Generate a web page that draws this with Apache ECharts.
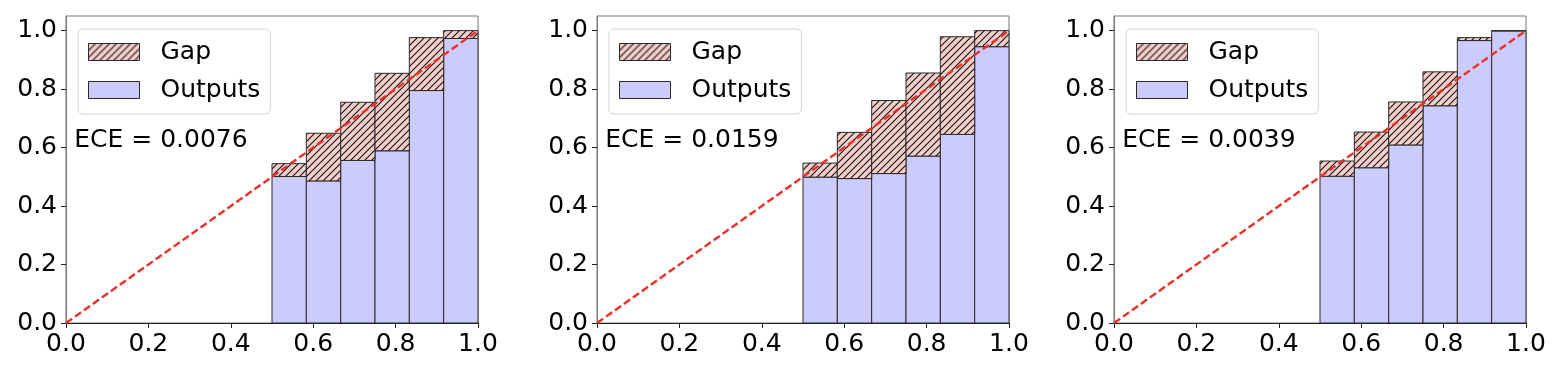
<!DOCTYPE html>
<html>
<head>
<meta charset="utf-8">
<title>Reliability diagrams</title>
<script src="https://cdn.jsdelivr.net/npm/echarts@6/dist/echarts.min.js"></script>
<style>
  html, body { margin: 0; padding: 0; background: #fff; }
  #chart { width: 1562px; height: 372px; }
</style>
</head>
<body>
<div id="chart"></div>
<script>
// bin edges (6 bins from 0.5 to 1.0)
const binEdges = [0.5, 0.5833, 0.6667, 0.75, 0.8333, 0.9167, 1.0];

// mean confidence per bin (top of the gap) and accuracy per bin (outputs)
const conf1 = [0.545, 0.649, 0.755, 0.854, 0.976, 1.0];
const acc1  = [0.501, 0.486, 0.556, 0.589, 0.795, 0.973];
const conf2 = [0.547, 0.652, 0.761, 0.855, 0.979, 1.0];
const acc2  = [0.499, 0.494, 0.511, 0.571, 0.645, 0.945];
const conf3 = [0.554, 0.653, 0.756, 0.859, 0.976, 1.0];
const acc3  = [0.502, 0.531, 0.609, 0.743, 0.966, 0.999];

const eceTexts = ['ECE = 0.0076', 'ECE = 0.0159', 'ECE = 0.0039'];
const tickValues = [0, 0.2, 0.4, 0.6, 0.8, 1.0];
const diagonal = [[0, 0], [1, 1]];
const ecePos = [0.02, 0.6];

const panels = [
    { conf: conf1, acc: acc1 },
    { conf: conf2, acc: acc2 },
    { conf: conf3, acc: acc3 }
];
const gridLefts = [66, 597, 1114];

const FONT = 'DejaVu Sans';
const FS = 25;
const OUT_COLOR = 'rgb(204,204,252)';
const GAP_BG = '#f6cfcb';
const EDGE = '#2a2a2a';

// hatch pattern "///" for the gap bars
function makeHatch() {
    const s = 7;
    const c = document.createElement('canvas');
    c.width = s; c.height = s;
    const ctx = c.getContext('2d');
    ctx.fillStyle = GAP_BG;
    ctx.fillRect(0, 0, s, s);
    ctx.strokeStyle = '#111';
    ctx.lineWidth = 1.1;
    ctx.beginPath();
    ctx.moveTo(-1, s + 1); ctx.lineTo(s + 1, -1);
    ctx.moveTo(-1, 1); ctx.lineTo(1, -1);
    ctx.moveTo(s - 1, s + 1); ctx.lineTo(s + 1, s - 1);
    ctx.stroke();
    return c;
}
const hatch = { image: makeHatch(), repeat: 'repeat' };

function renderBin(params, api) {
    const p0 = api.coord([api.value(0), api.value(3)]);
    const p1 = api.coord([api.value(1), api.value(2)]);
    return {
        type: 'rect',
        shape: { x: p0[0], y: p0[1], width: p1[0] - p0[0], height: p1[1] - p0[1] },
        style: api.style()
    };
}

const grids = [], xAxes = [], yAxes = [], series = [], legends = [];

panels.forEach(function (p, i) {
    grids.push({
        left: gridLefts[i], top: 16, width: 412, height: 307,
        show: true, borderColor: '#777', borderWidth: 1, backgroundColor: 'transparent'
    });
    xAxes.push({
        gridIndex: i, type: 'value', min: 0, max: 1, interval: 0.2,
        axisLine: { show: true, onZero: false, lineStyle: { color: '#222', width: 1 } },
        axisTick: { show: true, length: 5, lineStyle: { color: '#222' } },
        splitLine: { show: false },
        axisLabel: {
            margin: 9, fontSize: FS, color: '#000', fontFamily: FONT,
            formatter: function (v) { return v.toFixed(1); }
        }
    });
    yAxes.push({
        gridIndex: i, type: 'value', min: 0, max: 1.05,
        axisLine: { show: true, onZero: false, lineStyle: { color: '#777', width: 1 } },
        axisTick: { show: true, length: 5, customValues: tickValues, lineStyle: { color: '#222' } },
        splitLine: { show: false },
        axisLabel: {
            margin: 9, fontSize: FS, color: '#000', fontFamily: FONT,
            customValues: tickValues,
            formatter: function (v) { return v.toFixed(1); }
        }
    });

    const outData = [], gapData = [];
    for (let k = 0; k < p.acc.length; k++) {
        outData.push([binEdges[k], binEdges[k + 1], 0, p.acc[k]]);
        gapData.push([binEdges[k], binEdges[k + 1], p.acc[k], p.conf[k]]);
    }

    series.push({
        name: 'Outputs', type: 'custom', xAxisIndex: i, yAxisIndex: i,
        renderItem: renderBin, encode: { x: [0, 1], y: [2, 3] },
        itemStyle: { color: OUT_COLOR, borderColor: EDGE, borderWidth: 1 },
        data: outData, z: 2, silent: true
    });
    series.push({
        name: 'Gap', type: 'custom', xAxisIndex: i, yAxisIndex: i,
        renderItem: renderBin, encode: { x: [0, 1], y: [2, 3] },
        itemStyle: { color: hatch, borderColor: EDGE, borderWidth: 1 },
        data: gapData, z: 2, silent: true
    });
    series.push({
        name: 'diag' + i, type: 'line', xAxisIndex: i, yAxisIndex: i,
        data: diagonal, symbol: 'none', silent: true, z: 5,
        lineStyle: { color: 'rgb(236,48,40)', width: 2.4, type: [7.5, 3.5] }
    });
    series.push({
        name: 'ece' + i, type: 'scatter', xAxisIndex: i, yAxisIndex: i,
        data: [ecePos], symbolSize: 0, silent: true, z: 6,
        label: {
            show: true, position: [0, 0], align: 'left', verticalAlign: 'bottom',
            offset: [0, 5], fontSize: FS, color: '#000', opacity: 1, fontFamily: FONT,
            formatter: eceTexts[i]
        }
    });

    legends.push({
        data: ['Gap', 'Outputs'],
        orient: 'vertical', left: gridLefts[i] + 12, top: 29,
        icon: 'rect', itemWidth: 51, itemHeight: 17, itemGap: 12,
        padding: [10, 10, 11, 10],
        backgroundColor: 'rgba(255,255,255,0.8)',
        borderColor: '#d4d4d4', borderWidth: 1, borderRadius: 5,
        selectedMode: false,
        itemStyle: { borderColor: EDGE, borderWidth: 1 },
        textStyle: { fontSize: FS, color: '#000', fontFamily: FONT, padding: [0, 0, 0, 16], lineHeight: 26 }
    });
});

const chart = echarts.init(document.getElementById('chart'), null, { renderer: 'canvas' });
chart.setOption({
    animation: false,
    backgroundColor: '#fff',
    textStyle: { fontFamily: FONT },
    grid: grids,
    xAxis: xAxes,
    yAxis: yAxes,
    legend: legends,
    series: series
});
</script>
</body>
</html>
